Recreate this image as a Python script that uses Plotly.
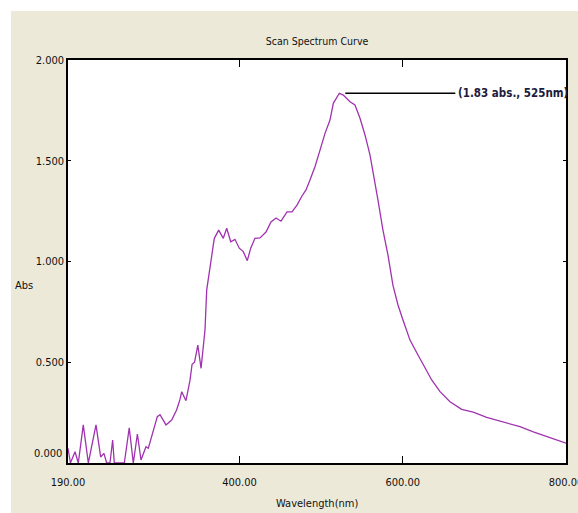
import plotly.graph_objects as go

# ---- data ----
wavelength_nm = [190, 193, 198.6, 202.6, 208.7, 214.9, 224.3, 230, 234, 237.4, 241.4, 244.7,
                 246.7, 259, 265, 270, 275, 279.4, 285.5, 288.4, 299.4, 302.7, 310, 317,
                 323, 327, 329.3, 334.5, 339.4, 342, 345, 349, 353, 357.8, 359.9, 364.8,
                 369.2, 374.6, 380.2, 384.4, 389.3, 394.5, 399.8, 404.7, 409.6, 413.8, 419,
                 425.2, 432.5, 438.6, 444.8, 450.9, 458.3, 464.4, 470.5, 476.6, 481.5,
                 486.4, 492.5, 498.7, 504.8, 510.9, 515, 522.3, 527.2, 535.4, 541.5, 547.7,
                 553.8, 559.9, 564.8, 569.7, 575.8, 582, 588, 594.2, 600.3, 608.9, 618.7,
                 627.3, 635.5, 645.7, 657.9, 672.2, 686.4, 702.8, 723.2, 743.6, 760, 780.4, 800]
absorbance = [0.073, 0.0, 0.056, 0.0, 0.189, 0.0, 0.189, 0.03, 0.048, 0.0, 0.0, 0.114,
              0.0, 0.0, 0.175, 0.0, 0.144, 0.015, 0.081, 0.073, 0.23, 0.24, 0.189, 0.213,
              0.263, 0.313, 0.354, 0.309, 0.41, 0.49, 0.50, 0.585, 0.47, 0.66, 0.859, 0.991,
              1.115, 1.156, 1.115, 1.165, 1.098, 1.11, 1.066, 1.049, 1.004, 1.066, 1.115,
              1.117, 1.146, 1.196, 1.216, 1.2, 1.246, 1.246, 1.28, 1.325, 1.355,
              1.404, 1.47, 1.553, 1.636, 1.702, 1.785, 1.835, 1.826, 1.793, 1.777, 1.711,
              1.628, 1.529, 1.421, 1.305, 1.156, 1.03, 0.883, 0.784, 0.71, 0.61, 0.536,
              0.471, 0.412, 0.354, 0.304, 0.266, 0.252, 0.227, 0.205, 0.18, 0.155, 0.127, 0.098]

x_ticks = [190, 400, 600, 800]
x_tick_text = ["190.00", "400.00", "600.00", "800.00"]
y_ticks = [0.5, 1.0, 1.5, 2.0]
y_tick_text = ["0.500", "1.000", "1.500", "2.000"]

peak_label = "(1.83 abs., 525nm)"
peak_wl = 522.3
peak_abs = 1.835

W, H = 578, 513
L, R, T, B = 68, 12, 60, 50
PW, PH = W - L - R, H - T - B

BEIGE = "#ECE9D8"
FONT = "DejaVu Sans Condensed, Liberation Sans Narrow, sans-serif"


def fnt(size, color="#111", **kw):
    return dict(family=FONT, size=size, color=color, **kw)


fig = go.Figure()
fig.add_trace(go.Scatter(x=wavelength_nm, y=absorbance, mode="lines",
                         line=dict(color="#A032B0", width=1.3), hoverinfo="skip",
                         showlegend=False))


def px(xp):
    return (xp - L) / PW


def py(yp):
    return (H - B - yp) / PH


xscale = PW / 610.0

shapes = [
    dict(type="rect", xref="paper", yref="paper", x0=px(0), x1=px(11), y0=py(H), y1=py(0),
         fillcolor="white", line=dict(width=0), layer="below"),
    dict(type="rect", xref="paper", yref="paper", x0=px(0), x1=px(W), y0=py(11), y1=py(0),
         fillcolor="white", line=dict(width=0), layer="below"),
    dict(type="line", xref="x", yref="y", x0=peak_wl + 6 / xscale, x1=peak_wl + 116 / xscale,
         y0=peak_abs, y1=peak_abs, line=dict(color="black", width=1.5)),
]

annotations = [
    dict(text=peak_label, xref="x", yref="y", x=peak_wl + 116 / xscale, y=peak_abs,
         xanchor="left", yanchor="middle", showarrow=False, xshift=1,
         font=fnt(11.5, "#1c1c3c", weight="bold")),
    dict(text="0.000", xref="paper", yref="paper", x=px(63.5), y=py(453), xanchor="right",
         yanchor="middle", showarrow=False, font=fnt(11)),
    dict(text="Abs", xref="paper", yref="paper", x=px(13), y=py(285), xanchor="left",
         yanchor="middle", showarrow=False, font=fnt(11)),
    dict(text="Wavelength(nm)", xref="paper", yref="paper", x=0.5, y=py(503), xanchor="center",
         yanchor="middle", showarrow=False, font=fnt(11)),
]

fig.update_layout(
    width=W, height=H,
    margin=dict(l=L, r=R, t=T, b=B, autoexpand=False),
    paper_bgcolor=BEIGE, plot_bgcolor="white",
    title=dict(text="Scan Spectrum Curve", x=0.5, xref="paper", xanchor="center",
               y=1 - 41 / H, yanchor="middle", yref="container", font=fnt(10.5)),
    shapes=shapes, annotations=annotations,
    xaxis=dict(range=[190, 800], tickvals=x_ticks, ticktext=x_tick_text, automargin=False,
               showgrid=False, zeroline=False, showline=True, linecolor="black", linewidth=1.5,
               mirror="ticks", ticks="inside", ticklen=7, tickcolor="black", tickwidth=1,
               tickfont=fnt(11), ticklabelstandoff=8, ticklabeloverflow="allow"),
    yaxis=dict(range=[0, 2.0], tickvals=y_ticks, ticktext=y_tick_text, automargin=False,
               showgrid=False, zeroline=False, showline=True, linecolor="black", linewidth=1.5,
               mirror="ticks", ticks="inside", ticklen=3, tickcolor="black", tickwidth=1,
               tickfont=fnt(11), ticklabeloverflow="allow"),
)

fig.write_html("out.html")
